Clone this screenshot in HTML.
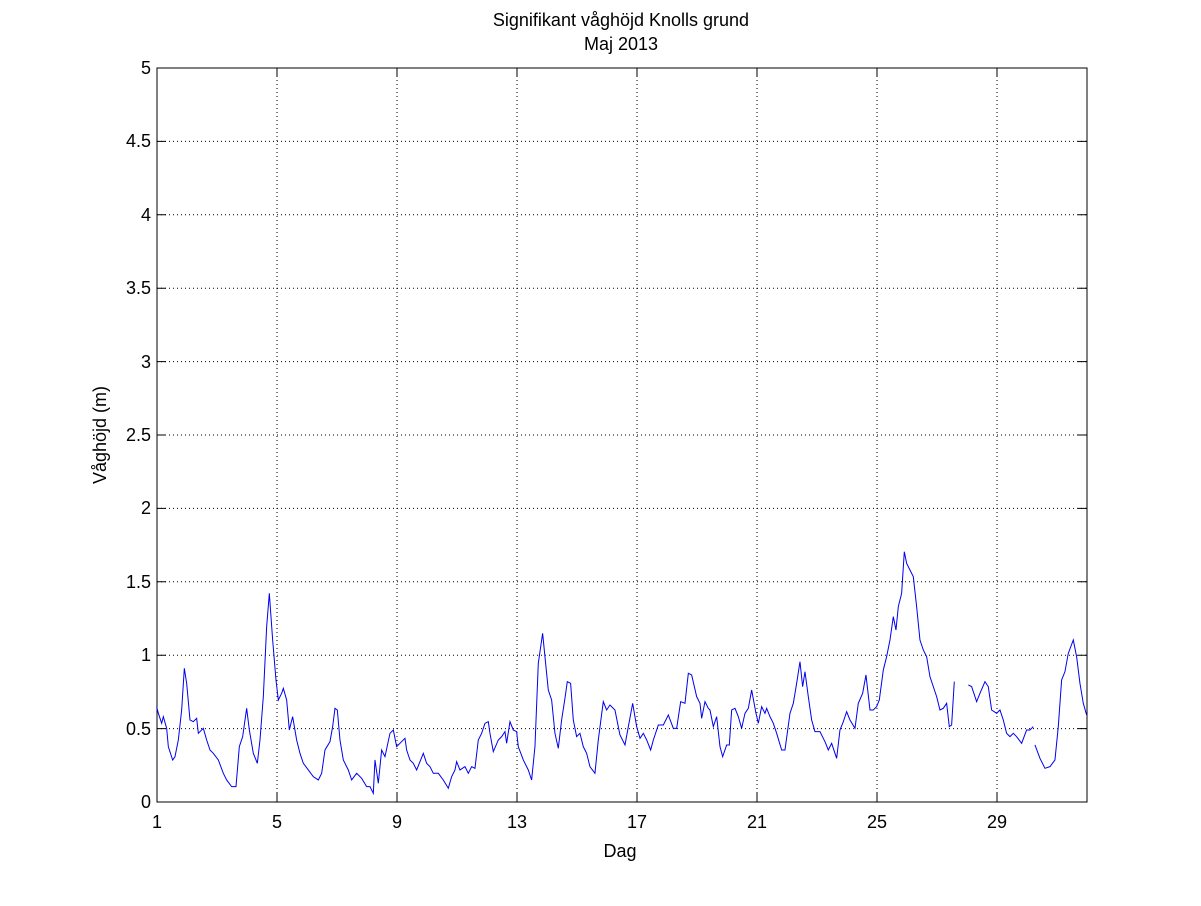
<!DOCTYPE html>
<html><head><style>html,body{margin:0;padding:0;background:#fff}</style></head><body>
<svg width="1201" height="901" xmlns="http://www.w3.org/2000/svg" font-family="Liberation Sans, sans-serif">
<rect width="1201" height="901" fill="#fff"/>
<g stroke="#000" stroke-width="1" stroke-dasharray="1,3" fill="none">
<line x1="277" y1="68" x2="277" y2="802"/><line x1="397" y1="68" x2="397" y2="802"/><line x1="517" y1="68" x2="517" y2="802"/><line x1="637" y1="68" x2="637" y2="802"/><line x1="757" y1="68" x2="757" y2="802"/><line x1="877" y1="68" x2="877" y2="802"/><line x1="997" y1="68" x2="997" y2="802"/>
<line x1="157" y1="728.6" x2="1087" y2="728.6"/><line x1="157" y1="655.2" x2="1087" y2="655.2"/><line x1="157" y1="581.8" x2="1087" y2="581.8"/><line x1="157" y1="508.4" x2="1087" y2="508.4"/><line x1="157" y1="435" x2="1087" y2="435"/><line x1="157" y1="361.6" x2="1087" y2="361.6"/><line x1="157" y1="288.2" x2="1087" y2="288.2"/><line x1="157" y1="214.8" x2="1087" y2="214.8"/><line x1="157" y1="141.4" x2="1087" y2="141.4"/>
</g>
<rect x="157" y="68" width="930" height="734" fill="none" stroke="#000"/>
<g stroke="#000">
<path d="M157 728.6h9M157 655.2h9M157 581.8h9M157 508.4h9M157 435h9M157 361.6h9M157 288.2h9M157 214.8h9M157 141.4h9M1087 728.6h-9M1087 655.2h-9M1087 581.8h-9M1087 508.4h-9M1087 435h-9M1087 361.6h-9M1087 288.2h-9M1087 214.8h-9M1087 141.4h-9"/>
<path d="M277 802v-9M397 802v-9M517 802v-9M637 802v-9M757 802v-9M877 802v-9M997 802v-9M277 68v9M397 68v9M517 68v9M637 68v9M757 68v9M877 68v9M997 68v9"/>
</g>
<g fill="none" stroke="#0000ee" stroke-width="1">
<polyline transform="translate(150,540) scale(0.3333)" vector-effect="non-scaling-stroke" points="20,500 25,520 35,550 40,530 50,565 55,620 68,660 75,650 85,600 95,510 103,385 110,430 120,540 130,545 140,535 145,580 160,565 170,600 180,630 190,640 205,660 220,700 230,720 245,740 258,740 268,620 278,590 290,505 298,570 310,640 322,670 330,600 340,470 350,260 358,160 368,300 378,420 385,480 395,460 400,445 410,480 418,570 428,530 440,600 450,640 460,670 475,690 490,710 505,720 515,700 525,630 540,605 548,560 555,505 562,510 570,600 580,660 595,690 605,720 620,700 635,715 650,740 660,740 670,760 675,660 685,730 695,630 705,650 720,580 730,570 740,620 750,610 765,595 770,630 780,660 790,670 800,690 810,665 820,640 830,670 840,680 850,700 865,700 880,720 895,745 905,710 915,690 920,665 930,690 945,680 955,700 965,680 975,685 985,600 995,580 1005,550 1015,545 1020,580 1030,635 1045,600 1055,590 1065,575 1070,610 1080,545 1090,570 1100,575 1105,620 1120,660 1135,690 1145,720 1155,620 1165,370 1178,280 1188,380 1195,450 1205,480 1215,580 1225,625 1235,540 1245,475 1252,425 1262,430 1270,540 1280,590 1290,580 1300,620 1310,640 1320,680 1335,700 1345,600 1360,485 1370,510 1380,495 1395,510 1410,585"/>
<polyline transform="translate(610,540) scale(0.3333)" vector-effect="non-scaling-stroke" points="30,585 45,615 55,560 68,490 80,560 90,595 100,580 110,600 122,630 130,600 145,555 160,555 175,525 190,565 200,565 212,485 225,490 235,400 245,405 260,470 270,490 275,535 285,485 295,505 300,510 310,560 320,530 330,620 338,650 350,615 358,615 365,510 375,505 385,530 395,565 405,520 415,505 425,450 438,520 445,550 455,500 465,520 470,505 480,530 490,550 500,580 515,630 525,630 540,520 550,490 560,430 570,365 578,440 585,395 595,470 605,540 615,575 630,575 645,605 655,630 665,610 680,655 690,570 700,545 710,515 720,540 735,565 745,490 758,460 768,405 780,510 790,510 800,500 808,480 820,390 830,350 840,300 850,230 858,270 865,200 875,160 883,35 890,70 900,90 910,110 920,200 930,300 940,330 950,350 960,410 970,440 980,470 990,510 1000,505 1010,490 1018,560 1025,555 1033,425"/>
<polyline transform="translate(610,540) scale(0.3333)" vector-effect="non-scaling-stroke" points="1075,435 1085,440 1100,485 1110,460 1125,425 1135,440 1145,510 1160,520 1170,510 1180,540 1190,580 1200,590 1210,580 1220,590 1235,610 1250,570 1260,570 1270,560"/>
<polyline transform="translate(610,540) scale(0.3333)" vector-effect="non-scaling-stroke" points="1275,615 1290,655 1305,685 1320,680 1335,660 1345,560 1355,420 1365,395 1375,340 1390,300 1400,350 1410,430 1420,490 1430,525"/>
</g>
<g font-size="18" fill="#000" text-anchor="end">
<text x="151" y="808">0</text><text x="151" y="735">0.5</text><text x="151" y="661">1</text><text x="151" y="588">1.5</text><text x="151" y="514">2</text><text x="151" y="441">2.5</text><text x="151" y="368">3</text><text x="151" y="294">3.5</text><text x="151" y="221">4</text><text x="151" y="147">4.5</text><text x="151" y="74">5</text>
</g>
<g font-size="18" fill="#000" text-anchor="middle">
<text x="157" y="828">1</text><text x="277" y="828">5</text><text x="397" y="828">9</text><text x="517" y="828">13</text><text x="637" y="828">17</text><text x="757" y="828">21</text><text x="877" y="828">25</text><text x="997" y="828">29</text>
<text x="620" y="857">Dag</text>
<text x="621" y="26">Signifikant våghöjd Knolls grund</text>
<text x="621" y="50">Maj 2013</text>
<text transform="translate(106,435) rotate(-90)">Våghöjd (m)</text>
</g>
</svg>
</body></html>
